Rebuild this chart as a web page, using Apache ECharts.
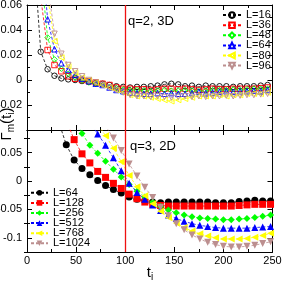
<!DOCTYPE html>
<html><head><meta charset="utf-8">
<script src="https://cdn.jsdelivr.net/npm/echarts@6/dist/echarts.min.js"></script>
<style>html,body{margin:0;padding:0;background:#fff}#c{width:283px;height:284px}</style>
</head><body><div id="c"></div>
<script>
// ---- data ----
const topT = [7,14,21,28,35,42,49,56,63,70,77,84,91,98,105,112,119,126,133,140,147,154,161,168,175,182,189,196,203,210,217,224,231,238,245];
const topNames = ['L=16','L=36','L=48','L=64','L=80','L=96'];
const topL16 = [0.1,0.0226,0.0086,0.0034,0.0013,0.0005,0.0,-0.0008,-0.0015,-0.0025,-0.003,-0.004,-0.005,-0.0055,-0.006,-0.0055,-0.0055,-0.005,-0.0045,-0.0035,-0.003,-0.0035,-0.005,-0.0045,-0.0055,-0.0045,-0.005,-0.005,-0.005,-0.0055,-0.005,-0.005,-0.005,-0.0045,-0.004];
const topL36 = [null,0.066,0.024,0.012,0.007,0.003,0.001,0.0,-0.001,-0.002,-0.003,-0.004,-0.006,-0.007,-0.007,-0.0075,-0.0075,-0.008,-0.0075,-0.007,-0.007,-0.0075,-0.007,-0.0075,-0.008,-0.0075,-0.007,-0.0075,-0.0075,-0.007,-0.007,-0.007,-0.007,-0.0065,-0.006];
const topL48 = [null,0.0875,0.034,0.0165,0.009,0.005,0.002,-0.0005,-0.002,-0.003,-0.004,-0.0055,-0.0065,-0.0075,-0.008,-0.008,-0.0085,-0.009,-0.0085,-0.008,-0.0085,-0.0085,-0.008,-0.0085,-0.009,-0.0085,-0.008,-0.008,-0.008,-0.0075,-0.008,-0.0075,-0.007,-0.007,-0.007];
const topL64 = [null,0.11,0.0486,0.0246,0.0134,0.008,0.004,0.001,-0.001,-0.003,-0.004,-0.006,-0.008,-0.009,-0.010,-0.0105,-0.011,-0.011,-0.0105,-0.011,-0.0105,-0.011,-0.011,-0.0105,-0.0095,-0.0105,-0.010,-0.0095,-0.009,-0.0095,-0.009,-0.009,-0.0085,-0.009,-0.008];
const topL80 = [null,null,0.067,0.031,0.018,0.011,0.006,0.002,0.0,-0.002,-0.004,-0.006,-0.008,-0.010,-0.012,-0.013,-0.013,-0.014,-0.015,-0.016,-0.017,-0.016,-0.015,-0.014,-0.013,-0.013,-0.013,-0.012,-0.013,-0.012,-0.012,-0.011,-0.011,-0.011,-0.010];
const topL96 = [null,null,0.077,0.037,0.021,0.012,0.007,0.003,0.0,-0.002,-0.004,-0.006,-0.008,-0.010,-0.012,-0.013,-0.013,-0.0135,-0.013,-0.0135,-0.014,-0.0135,-0.013,-0.0135,-0.013,-0.0135,-0.013,-0.013,-0.0125,-0.013,-0.0125,-0.012,-0.012,-0.0115,-0.011];

const botT = [32,40,48,56,64,72,80,88,96,104,112,120,128,136,144,152,160,168,176,184,192,200,208,216,224,232,240,248];
const botNames = ['L=64','L=128','L=256','L=512','L=768','L=1024'];
const botL64 = [0.106,0.064,0.037,0.022,0.011,0.001,-0.008,-0.015,-0.021,-0.028,-0.032,-0.035,-0.037,-0.038,-0.037,-0.037,-0.037,-0.037,-0.037,-0.037,-0.038,-0.038,-0.038,-0.036,-0.035,-0.034,-0.035,-0.035];
const botL128 = [null,0.107,0.073,0.048,0.032,0.017,0.0065,-0.004,-0.013,-0.023,-0.031,-0.037,-0.041,-0.043,-0.044,-0.044,-0.044,-0.044,-0.044,-0.044,-0.044,-0.044,-0.044,-0.043,-0.042,-0.041,-0.041,-0.041];
const botL256 = [null,null,0.115,0.084,0.063,0.049,0.035,0.021,0.007,-0.006,-0.018,-0.028,-0.037,-0.045,-0.051,-0.056,-0.06,-0.063,-0.065,-0.066,-0.067,-0.068,-0.068,-0.067,-0.066,-0.064,-0.062,-0.060];
const botL512 = [null,null,null,null,0.105,0.083,0.063,0.041,0.018,-0.004,-0.02,-0.032,-0.042,-0.052,-0.06,-0.066,-0.071,-0.075,-0.078,-0.080,-0.082,-0.083,-0.083,-0.083,-0.083,-0.082,-0.081,-0.080];
const botL768 = [null,null,null,null,null,0.1,0.08,0.058,0.034,0.01,-0.01,-0.026,-0.04,-0.053,-0.064,-0.074,-0.082,-0.088,-0.093,-0.097,-0.1,-0.102,-0.102,-0.102,-0.101,-0.099,-0.096,-0.092];
const botL1024 = [null,null,null,null,null,0.115,0.097,0.076,0.054,0.03,0.009,-0.011,-0.029,-0.046,-0.061,-0.075,-0.086,-0.095,-0.102,-0.108,-0.112,-0.115,-0.116,-0.116,-0.115,-0.113,-0.110,-0.107];

const botYTicks = [-0.1,-0.05,0,0.05];
const botYMinor = [-0.125,-0.075,-0.025,0.025,0.075];
const markT = 100;

// ---- styling ----
const colors = ['#000000','#ff0000','#00ff00','#0000ff','#ffff00','#bc8f8f'];
const syms = ['circle','rect','diamond','triangle','triangle','triangle'];
const rots = [0,0,0,0,90,180];
const topSeries = [topL16,topL36,topL48,topL64,topL80,topL96];
const botSeries = [botL64,botL128,botL256,botL512,botL768,botL1024];

const FONT = 'Liberation Sans, Arial, sans-serif';
const L = 27, R = 10.5;
const axisLineS = {lineStyle:{color:'#000',width:1}};

function xAx(gi, pos, labels){
  return {gridIndex:gi, type:'value', position:pos, min:0, max:250, interval:50,
    axisLine:Object.assign({show:true,onZero:false},axisLineS),
    axisTick:{show:true,inside:true,length:5,lineStyle:{color:'#000'}},
    minorTick:{show:true,splitNumber:2,length:3,lineStyle:{color:'#000'}},
    axisLabel:{show:labels,margin:3,color:'#000',fontSize:11,fontFamily:FONT},
    splitLine:{show:false}};
}
const fmt = v => { const r = Math.round(v*1000)/1000; return r===0?'0':String(r); };
const legendFmt = n => n.split('#')[0];

const option = {
  animation:false,
  backgroundColor:'#fff',
  grid:[
    {left:L,right:R,top:5,height:125,containLabel:false,outerBoundsMode:'none'},
    {left:L,right:R,top:130,height:122,containLabel:false,outerBoundsMode:'none'}
  ],
  xAxis:[xAx(0,'bottom',false), xAx(0,'top',false), xAx(1,'bottom',true), xAx(1,'top',false)],
  yAxis:[
    {gridIndex:0,type:'value',position:'left',min:-0.04,max:0.06,interval:0.02,
     axisLine:Object.assign({show:true,onZero:false},axisLineS),
     axisTick:{show:true,inside:true,length:5,lineStyle:{color:'#000'}},
     minorTick:{show:true,splitNumber:2,length:3,lineStyle:{color:'#000'}},
     axisLabel:{show:true,margin:5,color:'#000',fontSize:11,fontFamily:FONT,
       formatter:v=> (Math.abs(v+0.04)<1e-9)?'':fmt(v)},
     splitLine:{show:false}},
    {gridIndex:0,type:'value',position:'right',min:-0.04,max:0.06,interval:0.02,
     axisLine:Object.assign({show:true,onZero:false},axisLineS),
     axisTick:{show:true,inside:true,length:5,lineStyle:{color:'#000'}},
     minorTick:{show:true,splitNumber:2,length:3,lineStyle:{color:'#000'}},
     axisLabel:{show:false},splitLine:{show:false}},
    {gridIndex:1,type:'value',position:'left',min:-0.125,max:0.09,
     axisLine:Object.assign({show:true,onZero:false},axisLineS),
     axisTick:{show:true,inside:true,length:5,customValues:botYTicks,lineStyle:{color:'#000'}},
     axisLabel:{show:true,margin:5,color:'#000',fontSize:11,fontFamily:FONT,customValues:botYTicks,formatter:fmt},
     splitLine:{show:false}},
    {gridIndex:1,type:'value',position:'right',min:-0.125,max:0.09,
     axisLine:Object.assign({show:true,onZero:false},axisLineS),
     axisTick:{show:true,inside:true,length:5,customValues:botYTicks,lineStyle:{color:'#000'}},
     axisLabel:{show:false,customValues:botYTicks},splitLine:{show:false}},
    {gridIndex:1,type:'value',position:'left',min:-0.125,max:0.09,
     axisLine:{show:false},
     axisTick:{show:true,inside:true,length:3,customValues:botYMinor,lineStyle:{color:'#000'}},
     axisLabel:{show:false,customValues:botYMinor},splitLine:{show:false}},
    {gridIndex:1,type:'value',position:'right',min:-0.125,max:0.09,
     axisLine:{show:false},
     axisTick:{show:true,inside:true,length:3,customValues:botYMinor,lineStyle:{color:'#000'}},
     axisLabel:{show:false,customValues:botYMinor},splitLine:{show:false}}
  ],
  legend:[
    {data:topNames, orient:'vertical', left:222, top:9.6, itemWidth:18, itemHeight:7, itemGap:-0.9, padding:0,
     formatter:legendFmt, textStyle:{fontSize:11,fontFamily:FONT,color:'#000'}},
    {data:botNames.map(n=>n+'#b'), orient:'vertical', left:30, top:187.3, itemWidth:17, itemHeight:7, itemGap:-0.9, padding:0,
     formatter:legendFmt, textStyle:{fontSize:11,fontFamily:FONT,color:'#000'}}
  ],
  graphic:[
    {type:'text', left:128, top:15, style:{text:'q=2, 3D', font:'13px '+FONT, fill:'#000'}},
    {type:'text', left:130, top:140, style:{text:'q=3, 2D', font:'13px '+FONT, fill:'#000'}},
    {type:'text', x:7, y:124, rotation:Math.PI/2, style:{
      text:'{a|Γ}{s|m}{a|(t}{s|i}{a|)}', align:'center', verticalAlign:'middle',
      rich:{a:{fontSize:15,fontFamily:FONT,fill:'#000'}, s:{fontSize:10,fontFamily:FONT,fill:'#000',padding:[8,0,0,0]}}}},
    {type:'text', x:150, y:273, style:{
      text:'{a|t}{s|i}', align:'center', verticalAlign:'middle',
      rich:{a:{fontSize:15,fontFamily:FONT,fill:'#000'}, s:{fontSize:10,fontFamily:FONT,fill:'#000',padding:[8,0,0,0]}}}}
  ],
  series:[]
};

function mk(name, gi, xs, ys, i, hollow){
  return {
    name, type:'line', xAxisIndex: gi===0?0:2, yAxisIndex: gi===0?0:2,
    data: xs.map((t,k)=> ys[k]==null ? null : [t, ys[k]]).filter(d=>d),
    symbol: syms[i], symbolRotate: rots[i], symbolSize: hollow?5.5:7,
    showSymbol:true, clip:true,
    lineStyle:{color:colors[i], width:0.8, type:[3,2]},
    itemStyle: hollow ? {color:'rgba(255,255,255,0)', borderColor:colors[i], borderWidth:0.9}
                      : {color:colors[i], borderWidth:0},
    z: 3
  };
}
topNames.forEach((n,i)=> option.series.push(mk(n,0,topT,topSeries[i],i,true)));
botNames.forEach((n,i)=> option.series.push(mk(n+'#b',1,botT,botSeries[i],i,false)));
const ml = {silent:true, symbol:'none', label:{show:false}, lineStyle:{color:'#ee1111',type:'solid',width:1.3}, data:[{xAxis:markT}]};
option.series[0].markLine = ml;
option.series[6].markLine = JSON.parse(JSON.stringify(ml));

const chart = echarts.init(document.getElementById('c'), null, {renderer:'canvas'});
chart.setOption(option);
</script></body></html>
